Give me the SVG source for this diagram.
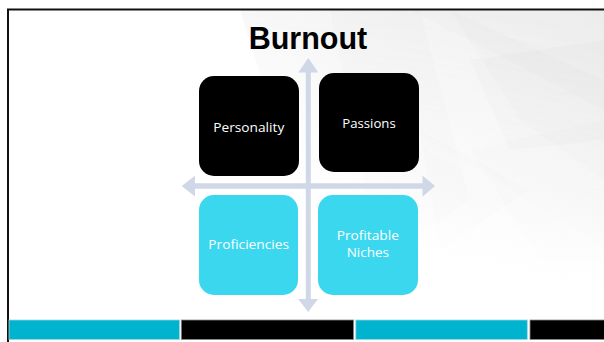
<svg xmlns="http://www.w3.org/2000/svg" width="604" height="342" viewBox="0 0 604 342">
  <defs>
    <linearGradient id="bgFade" x1="1" y1="0" x2="0.25" y2="1">
      <stop offset="0" stop-color="#eeeeee" stop-opacity="1"/>
      <stop offset="0.45" stop-color="#f4f4f4" stop-opacity="0.8"/>
      <stop offset="1" stop-color="#ffffff" stop-opacity="0"/>
    </linearGradient>
    <linearGradient id="vFade" x1="0" y1="0" x2="0" y2="1">
      <stop offset="0" stop-color="#fff" stop-opacity="1"/>
      <stop offset="0.7" stop-color="#fff" stop-opacity="0.6"/>
      <stop offset="1" stop-color="#fff" stop-opacity="0"/>
    </linearGradient>
    <mask id="fadeMask">
      <rect x="0" y="0" width="604" height="300" fill="url(#vFade)"/>
    </mask>
    <style>
      .lbl { font-family: "Open Sans", "Noto Sans", "Liberation Sans", sans-serif; font-size: 13.5px; fill: #ffffff; text-anchor: middle; }
      .dark { fill: #000000; }
      .cyan { fill: #3AD7EF; }
      .arrow { fill: #D0D7E7; }
      .facet { fill: #000000; }
      .barC { fill: #00B3CE; stroke: #9fd6e2; stroke-width: 0.8; }
      .barK { fill: #000000; stroke: #8a8a8a; stroke-width: 0.8; }
    </style>
  </defs>

  <!-- background -->
  <rect x="0" y="0" width="604" height="342" fill="#ffffff"/>
  <g id="background" mask="url(#fadeMask)">
    <polygon points="240,10 604,10 604,300 330,300" fill="url(#bgFade)"/>
    <polygon class="facet" fill-opacity="0.012" points="410,10 604,10 604,110" />
    <polygon class="facet" fill-opacity="0.01" points="450,10 604,80 604,180 520,120" />
    <polygon class="facet" fill-opacity="0.015" points="470,60 604,40 604,140 510,150" />
    <polygon class="facet" fill-opacity="0.012" points="330,10 420,10 470,200 380,260" />
    <polygon class="facet" fill-opacity="0.01" points="470,150 604,120 604,260 540,260" />
    <polygon class="facet" fill-opacity="0.01" points="420,130 530,190 440,250" />
  </g>

  <!-- slide frame -->
  <path d="M8,342 V9.5 H604" fill="none" stroke="#111111" stroke-width="2"/>

  <!-- title -->
  <text id="title" x="308" y="48.5" font-family="'Liberation Sans', Arial, sans-serif" font-weight="bold" font-size="30.5" text-anchor="middle" fill="#000000">Burnout</text>

  <!-- connectors: cross of double-headed arrows -->
  <g id="connectors">
    <polygon class="arrow" points="308.3,58 318.3,72.5 310.8,72.5 310.8,299 318,299 308.2,312 298.2,299 305.8,299 305.8,72.5 298.3,72.5"/>
    <polygon class="arrow" points="181.7,186 195,175.8 195,183.3 422.5,183.3 422.5,175.5 435,186 422.5,196.7 422.5,188.7 195,188.7 195,196.5"/>
  </g>

  <!-- nodes -->
  <g id="node-personality">
    <rect class="dark" x="199" y="76" width="100" height="100" rx="15" ry="15"/>
    <text class="lbl" x="248.8" y="131.5" textLength="71" lengthAdjust="spacingAndGlyphs">Personality</text>
  </g>
  <g id="node-passions">
    <rect class="dark" x="319" y="73" width="100" height="99" rx="15" ry="15"/>
    <text class="lbl" x="369" y="127.5" textLength="53.4" lengthAdjust="spacingAndGlyphs">Passions</text>
  </g>
  <g id="node-proficiencies">
    <rect class="cyan" x="199" y="195" width="99" height="100" rx="15" ry="15"/>
    <text class="lbl" x="248.7" y="249.3" textLength="80.7" lengthAdjust="spacingAndGlyphs">Proficiencies</text>
  </g>
  <g id="node-profitable-niches">
    <rect class="cyan" x="318" y="195" width="100" height="100" rx="15" ry="15"/>
    <text class="lbl" x="367.8" y="240.3" textLength="62.3" lengthAdjust="spacingAndGlyphs">Profitable</text>
    <text class="lbl" x="367.8" y="256.7" textLength="42.3" lengthAdjust="spacingAndGlyphs">Niches</text>
  </g>

  <!-- bottom bar -->
  <g id="bottom-bar">
    <rect class="barC" x="9" y="320" width="170.5" height="19.5"/>
    <rect class="barK" x="181.3" y="320" width="172.3" height="19.5"/>
    <rect class="barC" x="355.8" y="320" width="171.5" height="19.5"/>
    <rect class="barK" x="530" y="320" width="75" height="19.5"/>
  </g>
</svg>
